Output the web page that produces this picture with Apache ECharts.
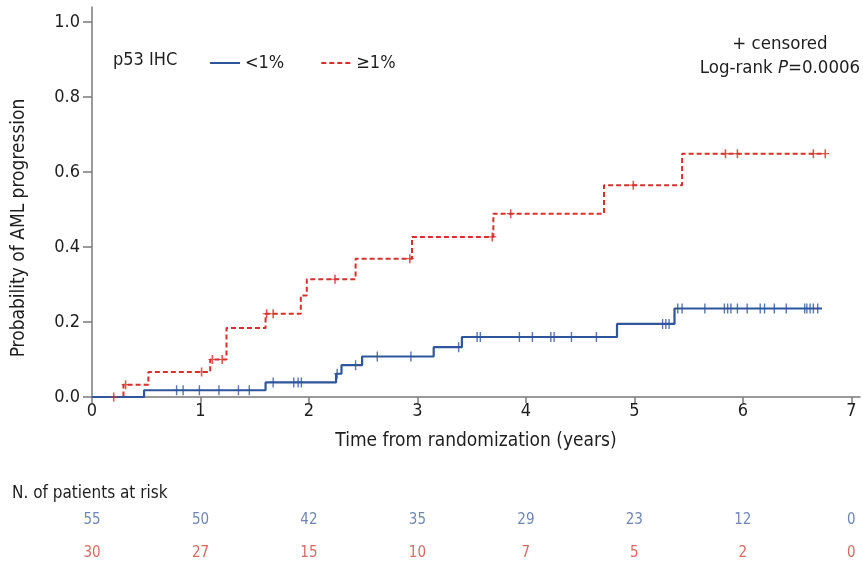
<!DOCTYPE html>
<html><head><meta charset="utf-8">
<script src="https://cdn.jsdelivr.net/npm/echarts@6/dist/echarts.min.js"></script>
<style>html,body{margin:0;padding:0;background:#fff}#c{width:863px;height:570px}</style>
</head><body><div id="c"></div>
<script>
// Kaplan-Meier step points [years, probability]
const lowSteps = [[0,0],[0.48,0.018],[1.60,0.039],[2.25,0.062],[2.30,0.085],[2.49,0.108],[3.15,0.133],[3.41,0.160],[4.84,0.195],[5.37,0.236],[6.73,0.236]];
const highSteps = [[0,0],[0.29,0.033],[0.52,0.067],[1.09,0.100],[1.24,0.184],[1.60,0.222],[1.925,0.271],[1.98,0.314],[2.43,0.369],[2.95,0.427],[3.70,0.489],[4.72,0.565],[5.44,0.649],[6.76,0.649]];
// censored observations
const lowCensor = [[0.78,0.018],[0.84,0.018],[0.99,0.018],[1.17,0.018],[1.35,0.018],[1.45,0.018],[1.67,0.039],[1.86,0.039],[1.90,0.039],[1.93,0.039],[2.26,0.062],[2.43,0.085],[2.63,0.108],[2.94,0.108],[3.38,0.133],[3.55,0.160],[3.58,0.160],[3.94,0.160],[4.06,0.160],[4.23,0.160],[4.26,0.160],[4.42,0.160],[4.65,0.160],[5.26,0.195],[5.29,0.195],[5.32,0.195],[5.40,0.236],[5.44,0.236],[5.65,0.236],[5.83,0.236],[5.86,0.236],[5.89,0.236],[5.95,0.236],[6.04,0.236],[6.16,0.236],[6.20,0.236],[6.29,0.236],[6.40,0.236],[6.57,0.236],[6.59,0.236],[6.62,0.236],[6.65,0.236],[6.69,0.236]];
const highCensor = [[0.20,0],[0.31,0.033],[1.01,0.067],[1.11,0.100],[1.20,0.100],[1.61,0.222],[1.67,0.222],[2.24,0.314],[2.93,0.369],[3.69,0.427],[3.86,0.489],[4.99,0.565],[5.84,0.649],[5.95,0.649],[6.65,0.649],[6.76,0.649]];
// numbers at risk
const riskYears = [0,1,2,3,4,5,6,7];
const riskLow = [55,50,42,35,29,23,12,0];
const riskHigh = [30,27,15,10,7,5,2,0];
const xTicks = [0,1,2,3,4,5,6,7];
const yTicks = [0,0.2,0.4,0.6,0.8,1.0];
const groupNames = ['<1%','≥1%'];

const FONT = "'DejaVu Sans Condensed','Liberation Sans Narrow',sans-serif";
const BLUE = '#2f569c', RED = '#d7302c', AX = '#7a7a7a', TXT = '#1e1e1e';
const plus = 'path://M-0.2,-1 H0.2 V-0.12 H1 V0.12 H0.2 V1 H-0.2 V0.12 H-1 V-0.12 H-0.2 Z';

const chart = echarts.init(document.getElementById('c'), null, {renderer:'canvas'});
chart.setOption({
  animation:false,
  backgroundColor:'#fff',
  textStyle:{fontFamily:FONT},
  grid:[
    {left:92, right:3, top:7, bottom:173},
    {left:92, right:3, top:504, height:70}
  ],
  legend:{
    data:groupNames.map(n=>({name:n})),
    left:204, top:49, itemWidth:30, itemHeight:10, itemGap:36,
    itemStyle:{opacity:0},
    textStyle:{fontFamily:FONT, fontSize:18, color:TXT}
  },
  xAxis:[
    {type:'value', gridIndex:0, min:0, max:7.08,
     axisLine:{show:true, onZero:false, lineStyle:{color:AX, width:1.5}},
     axisTick:{show:true, length:6, customValues:xTicks, lineStyle:{color:AX, width:1.5}},
     axisLabel:{customValues:xTicks, fontSize:18, color:TXT, fontFamily:FONT, margin:5},
     splitLine:{show:false},
     name:'Time from randomization (years)', nameLocation:'middle', nameGap:35,
     nameTextStyle:{fontSize:19, color:TXT, fontFamily:FONT}},
    {type:'value', gridIndex:1, min:0, max:7.08, show:false}
  ],
  yAxis:[
    {type:'value', gridIndex:0, min:0, max:1.04,
     axisLine:{show:true, lineStyle:{color:AX, width:1.5}},
     axisTick:{show:true, length:9, customValues:yTicks, lineStyle:{color:AX, width:1.5}},
     axisLabel:{customValues:yTicks, formatter:v=>v.toFixed(1), fontSize:18, color:TXT, fontFamily:FONT, margin:12},
     splitLine:{show:false}},
    {type:'category', gridIndex:1, data:groupNames, inverse:true, show:false}
  ],
  graphic:[
    {type:'text', x:19, y:228, rotation:Math.PI/2,
     style:{text:'Probability of AML progression', fontSize:19, fill:TXT, fontFamily:FONT, align:'center', verticalAlign:'middle'}},
    {type:'text', left:113, top:51, style:{text:'p53 IHC', fontSize:18, fill:TXT, fontFamily:FONT}},
    {type:'text', x:780, y:35, style:{text:'+ censored', fontSize:18.5, fill:TXT, fontFamily:FONT, align:'center'}},
    {type:'text', x:780, y:59, style:{text:'{a|Log-rank }{b|P}{a|=0.0006}', align:'center',
      rich:{a:{fontSize:18.5, fill:TXT, fontFamily:FONT}, b:{fontSize:18.5, fill:TXT, fontFamily:FONT, fontStyle:'italic'}}}},
    {type:'text', left:12, top:485, style:{text:'N. of patients at risk', fontSize:17, fill:TXT, fontFamily:FONT}}
  ],
  series:[
    {name:groupNames[1], type:'line', step:'end', data:highSteps, showSymbol:false, symbol:'none',
     lineStyle:{color:RED, width:2, type:[5,3]}, itemStyle:{color:RED}, z:3},
    {name:groupNames[0], type:'line', step:'end', data:lowSteps, showSymbol:false, symbol:'none',
     lineStyle:{color:BLUE, width:2.2}, itemStyle:{color:BLUE}, z:4},
    {name:'c-high', type:'scatter', data:highCensor, symbol:plus, symbolSize:[8,9], itemStyle:{color:RED}, z:5, silent:true},
    {name:'c-low', type:'scatter', data:lowCensor, symbol:plus, symbolSize:[7,10], itemStyle:{color:BLUE}, z:6, silent:true},
    {name:'r-low', type:'scatter', xAxisIndex:1, yAxisIndex:1, symbolSize:0,
     data:riskYears.map((t,i)=>[t, groupNames[0], riskLow[i]]),
     label:{show:true, position:'inside', formatter:p=>p.data[2], fontSize:15, color:'#4a68a6', fontFamily:FONT}},
    {name:'r-high', type:'scatter', xAxisIndex:1, yAxisIndex:1, symbolSize:0,
     data:riskYears.map((t,i)=>[t, groupNames[1], riskHigh[i]]),
     label:{show:true, position:'inside', formatter:p=>p.data[2], fontSize:15, color:'#d0453a', fontFamily:FONT}}
  ]
});
</script></body></html>
